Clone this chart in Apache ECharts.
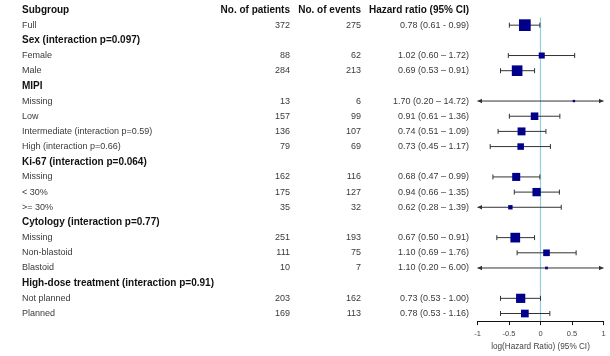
<!DOCTYPE html>
<html>
<head>
<meta charset="utf-8">
<script src="https://cdn.jsdelivr.net/npm/echarts@6/dist/echarts.min.js"></script>
<style>
  html, body { margin: 0; padding: 0; background: #fff; }
  #chart { width: 610px; height: 356px; }
</style>
</head>
<body>
<div id="chart"></div>
<script>
// Column headings of the table
const columnHeaders = ['Subgroup', 'No. of patients', 'No. of events', 'Hazard ratio (95% CI)'];

// One entry per table row; null counts mark a bold group heading
const subgroups = [
  'Full',
  'Sex (interaction p=0.097)',
  'Female',
  'Male',
  'MIPI',
  'Missing',
  'Low',
  'Intermediate (interaction p=0.59)',
  'High (interaction p=0.66)',
  'Ki-67 (interaction p=0.064)',
  'Missing',
  '< 30%',
  '>= 30%',
  'Cytology (interaction p=0.77)',
  'Missing',
  'Non-blastoid',
  'Blastoid',
  'High-dose treatment (interaction p=0.91)',
  'Not planned',
  'Planned'
];
const patients = [372, null, 88, 284, null, 13, 157, 136, 79, null, 162, 175, 35, null, 251, 111, 10, null, 203, 169];
const events   = [275, null, 62, 213, null, 6, 99, 107, 69, null, 116, 127, 32, null, 193, 75, 7, null, 162, 113];
const hazardRatio = [0.78, null, 1.02, 0.69, null, 1.70, 0.91, 0.74, 0.73, null, 0.68, 0.94, 0.62, null, 0.67, 1.10, 1.10, null, 0.73, 0.78];
const ciLower     = [0.61, null, 0.60, 0.53, null, 0.20, 0.61, 0.51, 0.45, null, 0.47, 0.66, 0.28, null, 0.50, 0.69, 0.20, null, 0.53, 0.53];
const ciUpper     = [0.99, null, 1.72, 0.91, null, 14.72, 1.36, 1.09, 1.17, null, 0.99, 1.35, 1.39, null, 0.91, 1.76, 6.00, null, 1.00, 1.16];
const ciSeparator = ['-', null, '–', '–', null, '–', '–', '–', '–', null, '–', '–', '–', null, '–', '–', '–', null, '-', '-'];

// log(HR) axis
const axisMin = -1, axisMax = 1, axisStep = 0.5;
const axisTitle = 'log(Hazard Ratio) (95% CI)';

const FONT = '"Liberation Sans", Arial, Helvetica, sans-serif';
const rowCount = subgroups.length + 1; // + heading row

function fmt2(v) { return v.toFixed(2); }

// Row data: [rowIndex, itemIndex]; heading row uses itemIndex -1
const tableRows = [[0, -1]].concat(subgroups.map((s, i) => [i + 1, i]));

const estimates = [];
const intervals = [];
subgroups.forEach((s, i) => {
  if (hazardRatio[i] == null) return;
  // box side grows with precision (inverse standard error on the log scale)
  const se = (Math.log(ciUpper[i]) - Math.log(ciLower[i])) / (2 * 1.96);
  estimates.push([Math.log(hazardRatio[i]), i + 1, 1.2 + 1.3 / se]);
  intervals.push([Math.log(ciLower[i]), Math.log(ciUpper[i]), i + 1]);
});

// Table column anchors (pixels)
const colSubgroupX = 22;
const colPatientsRight = 290;
const colEventsRight = 361;
const colHrRight = 469;

function renderTable(params, api) {
  const row = api.value(0);
  const idx = api.value(1);
  const y = api.coord([0, row])[1];
  const children = [];
  const boldFont = 'bold 10px ' + FONT;
  const normFont = '9px ' + FONT;
  function txt(text, x, align, font, color) {
    children.push({
      type: 'text',
      style: { text: text, x: x, y: y, align: align, verticalAlign: 'middle', font: font, fill: color }
    });
  }
  if (idx < 0) {
    txt(columnHeaders[0], colSubgroupX, 'left', boldFont, '#111');
    txt(columnHeaders[1], colPatientsRight, 'right', boldFont, '#111');
    txt(columnHeaders[2], colEventsRight, 'right', boldFont, '#111');
    txt(columnHeaders[3], colHrRight, 'right', boldFont, '#111');
  } else if (patients[idx] == null) {
    txt(subgroups[idx], colSubgroupX, 'left', boldFont, '#111');
  } else {
    txt(subgroups[idx], colSubgroupX, 'left', normFont, '#3a3a3a');
    txt(String(patients[idx]), colPatientsRight, 'right', normFont, '#3a3a3a');
    txt(String(events[idx]), colEventsRight, 'right', normFont, '#3a3a3a');
    const label = fmt2(hazardRatio[idx]) + ' (' + fmt2(ciLower[idx]) + ' ' + ciSeparator[idx] + ' ' + fmt2(ciUpper[idx]) + ')';
    txt(label, colHrRight, 'right', normFont, '#3a3a3a');
  }
  return { type: 'group', children: children };
}

function renderInterval(params, api) {
  const lo = api.value(0), hi = api.value(1), row = api.value(2);
  const a = api.coord([Math.max(lo, axisMin), row]);
  const b = api.coord([Math.min(hi, axisMax), row]);
  const stroke = { stroke: '#333', lineWidth: 1 };
  const children = [{ type: 'line', shape: { x1: a[0], y1: a[1], x2: b[0], y2: b[1] }, style: stroke }];
  function end(p, clipped, dir) {
    if (clipped) {
      children.push({
        type: 'polygon',
        shape: { points: [[p[0], p[1]], [p[0] - dir * 4.5, p[1] - 2.2], [p[0] - dir * 4.5, p[1] + 2.2]] },
        style: { fill: '#333' }
      });
    } else {
      children.push({ type: 'line', shape: { x1: p[0], y1: p[1] - 2.5, x2: p[0], y2: p[1] + 2.5 }, style: stroke });
    }
  }
  end(a, lo < axisMin, -1);
  end(b, hi > axisMax, 1);
  return { type: 'group', children: children };
}

function renderReference(params, api) {
  const top = api.coord([0, 0.5]);
  const bottom = api.coord([0, rowCount - 0.5]);
  return {
    type: 'line',
    shape: { x1: top[0], y1: top[1], x2: bottom[0], y2: bottom[1] },
    style: { stroke: '#8fd0e2', lineWidth: 1.2 }
  };
}

const chart = echarts.init(document.getElementById('chart'), null, { renderer: 'canvas' });
chart.setOption({
  animation: false,
  backgroundColor: '#fff',
  grid: { left: 477.5, width: 126, top: 2.4, height: 320.5 },
  xAxis: {
    type: 'value',
    position: 'bottom',
    min: axisMin,
    max: axisMax,
    interval: axisStep,
    splitLine: { show: false },
    axisLine: { show: true, onZero: false, lineStyle: { color: '#111', width: 1 } },
    axisTick: { show: true, length: 4, lineStyle: { color: '#111' } },
    axisLabel: { fontSize: 7.5, color: '#444', fontFamily: FONT, margin: 9 },
    name: axisTitle,
    nameLocation: 'middle',
    nameGap: 17,
    nameTextStyle: { fontSize: 8.2, color: '#444', fontFamily: FONT }
  },
  yAxis: {
    type: 'value',
    inverse: true,
    min: -0.5,
    max: rowCount - 0.5,
    show: false
  },
  series: [
    {
      type: 'custom',
      renderItem: renderTable,
      data: tableRows,
      clip: false,
      silent: true,
      z: 1
    },
    {
      type: 'custom',
      renderItem: renderReference,
      data: [[0]],
      clip: false,
      silent: true,
      z: 2
    },
    {
      type: 'custom',
      renderItem: renderInterval,
      data: intervals,
      clip: false,
      silent: true,
      z: 3
    },
    {
      type: 'scatter',
      data: estimates,
      symbol: 'rect',
      symbolSize: function (val) { return val[2]; },
      itemStyle: { color: '#00008b', opacity: 1 },
      z: 4
    }
  ]
});
</script>
</body>
</html>
